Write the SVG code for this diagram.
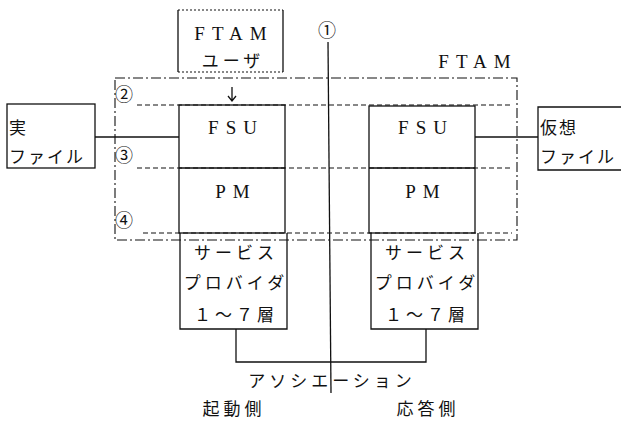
<svg xmlns="http://www.w3.org/2000/svg" width="621" height="423" viewBox="0 0 621 423">
<style>
.s{fill:none;stroke:#111;stroke-width:1.3}
.d{fill:none;stroke:#111;stroke-width:1.1;stroke-dasharray:5 3}
.dd{fill:none;stroke:#111;stroke-width:1.1;stroke-dasharray:10 3 2 3}
.o{fill:none;stroke:#111;stroke-width:1.1;stroke-dasharray:2 2}
text{font-family:"Liberation Serif","Noto Sans CJK JP",serif;fill:#111;font-size:19px;text-anchor:middle}
.j{font-family:"Noto Sans CJK JP",sans-serif;font-size:17px;letter-spacing:4px}
.f{font-family:"Noto Sans CJK JP",sans-serif;font-size:17px;letter-spacing:2px;text-anchor:start}
.l{letter-spacing:7px}
.n{font-family:"Noto Sans CJK JP",sans-serif;font-size:18px}
</style>
<rect width="621" height="423" fill="#fff"/>
<g id="ftam-frame">
<rect class="dd" x="115" y="78" width="402" height="162"/>
<text class="l" x="478" y="68">FTAM</text>
</g>
<g id="layers">
<line class="d" x1="137" y1="105" x2="512" y2="105"/>
<line class="d" x1="137" y1="168" x2="512" y2="168"/>
<line class="d" x1="143" y1="233" x2="512" y2="233"/>
<text class="n" x="124" y="101">②</text>
<text class="n" x="124" y="162">③</text>
<text class="n" x="124" y="227">④</text>
</g>
<g id="ftam-user">
<path class="s" d="M178,10 V72 M283,10 V72"/>
<line class="o" x1="178" y1="10" x2="283" y2="10"/>
<line class="o" x1="178" y1="72" x2="283" y2="72"/>
<text class="l" x="234" y="40">FTAM</text>
<text class="j" x="233" y="67">ユーザ</text>
<path class="s" d="M232,87 V101 M228,96 L232,101 L236,96"/>
</g>
<g id="real-file">
<rect class="s" x="7" y="104" width="88" height="64"/>
<text class="f" x="9" y="134">実</text>
<text class="f" x="9" y="163">ファイル</text>
</g>
<g id="virtual-file">
<path class="s" d="M621,107 H538 V170 H621"/>
<text class="f" x="540" y="134">仮想</text>
<text class="f" x="540" y="163">ファイル</text>
</g>
<g id="left-stack">
<rect class="s" x="179" y="105" width="106" height="128"/>
<line class="s" x1="179" y1="168" x2="285" y2="168"/>
<text class="l" x="236" y="134">FSU</text>
<text class="l" x="236" y="198">PM</text>
<path class="s" d="M180,233 V329 H287 V233"/>
<text class="j" x="236" y="259">サービス</text>
<text class="j" x="236" y="289">プロバイダ</text>
<text class="j" x="236" y="321">１～７層</text>
</g>
<g id="right-stack">
<rect class="s" x="369" y="106" width="106" height="127"/>
<line class="s" x1="369" y1="168" x2="475" y2="168"/>
<text class="l" x="426" y="134">FSU</text>
<text class="l" x="426" y="198">PM</text>
<path class="s" d="M371,233 V329 H478 V233"/>
<text class="j" x="427" y="259">サービス</text>
<text class="j" x="427" y="289">プロバイダ</text>
<text class="j" x="427" y="321">１～７層</text>
</g>
<g id="connectors">
<line class="s" x1="95" y1="137" x2="179" y2="137"/>
<line class="s" x1="475" y1="137" x2="538" y2="137"/>
<path class="s" d="M236,329 V362 H426 V329"/>
<line class="s" x1="328" y1="42" x2="331" y2="393"/>
</g>
<g id="interface-1">
<text class="n" x="327" y="37">①</text>
</g>
<g id="labels">
<text class="j" x="332" y="387">アソシエーション</text>
<text class="j" x="234" y="415">起動側</text>
<text class="j" x="428" y="415">応答側</text>
</g>
</svg>
